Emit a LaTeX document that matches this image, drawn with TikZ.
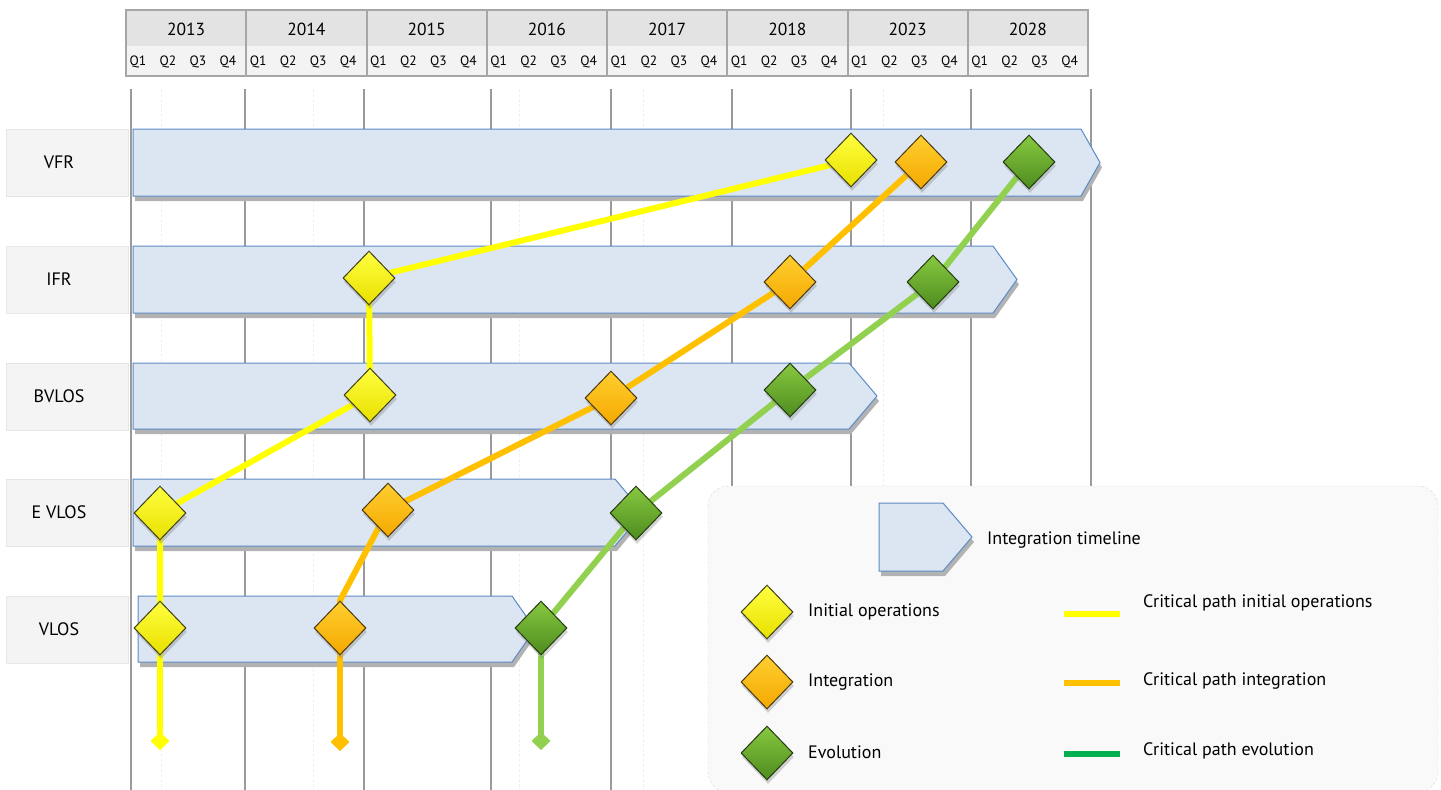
\documentclass[tikz,border=0pt]{standalone}
\usepackage{fontspec}
\setmainfont{PT Sans}
\usetikzlibrary{shapes.geometric,shadows,arrows.meta}
% colours
\definecolor{hdrYear}{HTML}{E3E3E3}
\definecolor{hdrQuarter}{HTML}{F3F3F3}
\definecolor{hdrLine}{HTML}{A6A6A6}
\definecolor{gridLine}{HTML}{9A9A9A}
\definecolor{labelFill}{HTML}{F4F4F4}
\definecolor{labelLine}{HTML}{E6E6E6}
\definecolor{barFill}{HTML}{DCE6F2}
\definecolor{barLine}{HTML}{5B8BC6}
\definecolor{legendFill}{HTML}{F9F9F9}
\definecolor{ylwTop}{HTML}{FFFF40}
\definecolor{ylwBot}{HTML}{E8E000}
\definecolor{ylwEdge}{HTML}{3F3F1A}
\definecolor{ornTop}{HTML}{FFCF30}
\definecolor{ornBot}{HTML}{F5A800}
\definecolor{ornEdge}{HTML}{4A3810}
\definecolor{grnTop}{HTML}{86C840}
\definecolor{grnBot}{HTML}{4E8C1E}
\definecolor{grnEdge}{HTML}{253A12}
\definecolor{ylwPath}{HTML}{FFFF00}
\definecolor{ornPath}{HTML}{FFC000}
\definecolor{grnPath}{HTML}{92D050}
\definecolor{grnKey}{HTML}{00B050}
\pgfdeclarelayer{back}
\pgfdeclarelayer{paths}
\pgfsetlayers{back,paths,main}
\tikzset{
  yearText/.style={font=\fontsize{17.5}{20}\selectfont},
  quarterText/.style={font=\fontsize{13.5}{15}\selectfont},
  rowText/.style={font=\fontsize{18}{20}\selectfont},
  keyText/.style={anchor=west, inner sep=0pt, font=\fontsize{18}{21}\selectfont},
  milestone/.style={diamond, minimum width=52pt, minimum height=54pt, inner sep=0pt,
    draw=#1Edge, line width=1pt, top color=#1Top, bottom color=#1Bot,
    drop shadow={shadow xshift=1pt, shadow yshift=-4pt, opacity=0.35}},
  critPath/.style={draw=#1, line width=6pt, line cap=butt, line join=round},
  endMark/.style={-{Diamond[length=18pt,width=19pt]}}
}
% timeline bar: left, body end, tip, top, bottom
\newcommand{\uasBar}[5]{%
  \begin{scope}[shift={(2,5)}]
    \fill[black!30] (#1,#4) -- (#2,#4) -- (#3,{(#4+#5)/2}) -- (#2,#5) -- (#1,#5) -- cycle;
  \end{scope}
  \draw[barLine, fill=barFill, line width=1pt, line join=miter] (#1,#4) -- (#2,#4) -- (#3,{(#4+#5)/2}) -- (#2,#5) -- (#1,#5) -- cycle;}
\begin{document}
\begin{tikzpicture}[x=1pt, y=-1pt]
\useasboundingbox (0,0) rectangle (1441,790);
\def\colw{120.25}
\begin{pgfonlayer}{back}
  % header with years and quarters
  \fill[hdrYear] (126,10) rectangle (1088,46);
  \fill[hdrQuarter] (126,46) rectangle (1088,76);
  \foreach \yr [count=\i from 0] in {2013,2014,2015,2016,2017,2018,2023,2028} {
    \node[yearText] (yr\i) at ({126+\colw*(\i+0.5)},29) {\yr};
    \foreach \q in {1,...,4}
      \node[quarterText] (q\i-\q) at ({126+\colw*\i+30*\q-18},62) {Q\q};
    \draw[hdrLine, line width=2pt] ({126+\colw*\i},10) -- ({126+\colw*\i},76);
  }
  \draw[hdrLine, line width=2pt] (126,10) rectangle (1088,76);
  % faint dashed guides
  \foreach \x in {161,313,519,643,883}
    \draw[black!6, densely dashed, line width=1pt] (\x,89) -- (\x,790);
  % year grid lines
  \foreach \x in {131,245,364,491,611,732,851,971,1091}
    \draw[gridLine, line width=1.6pt] (\x,89) -- (\x,790);
  % legend panel
  \path[fill=legendFill, draw=black!15, densely dashed, rounded corners=20pt] (708,486) rectangle (1438,792);
  % row labels
  \foreach \lbl/\top in {VFR/129,IFR/246,BVLOS/363,E VLOS/479,VLOS/596} {
    \path[fill=labelFill, draw=labelLine, line width=1pt] (6,\top) rectangle (128,\top+67);
    \node[rowText] (lbl-\lbl) at (59,\top+33.5) {\lbl};
  }
  % timeline bars
  \uasBar{133}{1081}{1100}{129}{196}
  \uasBar{133}{993}{1017}{246}{313}
  \uasBar{133}{849}{877}{363}{429}
  \uasBar{133}{615}{643}{479}{546}
  \uasBar{138}{512}{535}{596}{662}
  \uasBar{879}{943}{972}{503}{571}
\end{pgfonlayer}

% milestones
\node[milestone=ylw] (yVFR)   at (851,160) {};
\node[milestone=orn] (oVFR)   at (921,162) {};
\node[milestone=grn] (gVFR)   at (1029,162) {};
\node[milestone=ylw] (yIFR)   at (369,278) {};
\node[milestone=orn] (oIFR)   at (790,282) {};
\node[milestone=grn] (gIFR)   at (933,282) {};
\node[milestone=ylw] (yBVLOS) at (370,395) {};
\node[milestone=orn] (oBVLOS) at (611,398) {};
\node[milestone=grn] (gBVLOS) at (790,390) {};
\node[milestone=ylw] (yEVLOS) at (160,513) {};
\node[milestone=orn] (oEVLOS) at (388,510) {};
\node[milestone=grn] (gEVLOS) at (636,513) {};
\node[milestone=ylw] (yVLOS)  at (160,628) {};
\node[milestone=orn] (oVLOS)  at (340,628) {};
\node[milestone=grn] (gVLOS)  at (541,628) {};
\coordinate (yEnd) at (160,750);
\coordinate (oEnd) at (340,751);
\coordinate (gEnd) at (541,750);

% critical paths
\begin{pgfonlayer}{paths}
  \draw[critPath=ylwPath] (yVFR.center) -- (yIFR.center) -- (yBVLOS.center) -- (yEVLOS.center) -- (yVLOS.center) -- (yVLOS.south);
  \draw[critPath=ylwPath, endMark, fill=ylwPath] (yVLOS.south) -- (yEnd);
  \draw[critPath=ornPath] (oVFR.center) -- (oIFR.center) -- (oBVLOS.center) -- (oEVLOS.center) -- (oVLOS.north) -- (oVLOS.south);
  \draw[critPath=ornPath, endMark, fill=ornPath] (oVLOS.south) -- (oEnd);
  \draw[critPath=grnPath] (gVFR.center) -- (gIFR.center) -- (gBVLOS.center) -- (gEVLOS.center) -- (gVLOS.center) -- (gVLOS.south);
  \draw[critPath=grnPath, endMark, fill=grnPath] (gVLOS.south) -- (gEnd);
\end{pgfonlayer}

% legend
\node[keyText] (keyBar) at (987,540) {Integration timeline};
\node[milestone=ylw] (keyYlw) at (767,612) {};
\node[milestone=orn] (keyOrn) at (767,682) {};
\node[milestone=grn] (keyGrn) at (767,753) {};
\node[keyText] (keyYlwText) at (808,612) {Initial operations};
\node[keyText] (keyOrnText) at (808,682) {Integration};
\node[keyText] (keyGrnText) at (808,752) {Evolution};
\coordinate (kyA) at (1064,614); \coordinate (kyB) at (1120,614);
\coordinate (koA) at (1064,683); \coordinate (koB) at (1120,683);
\coordinate (kgA) at (1064,754); \coordinate (kgB) at (1120,754);
\draw[critPath=ylwPath] (kyA) -- (kyB);
\draw[critPath=ornPath] (koA) -- (koB);
\draw[critPath=grnKey] (kgA) -- (kgB);
\node[keyText] (keyYlwPath) at (1143,603) {Critical path initial operations};
\node[keyText] (keyOrnPath) at (1143,681) {Critical path integration};
\node[keyText] (keyGrnPath) at (1143,751) {Critical path evolution};
\end{tikzpicture}
\end{document}
